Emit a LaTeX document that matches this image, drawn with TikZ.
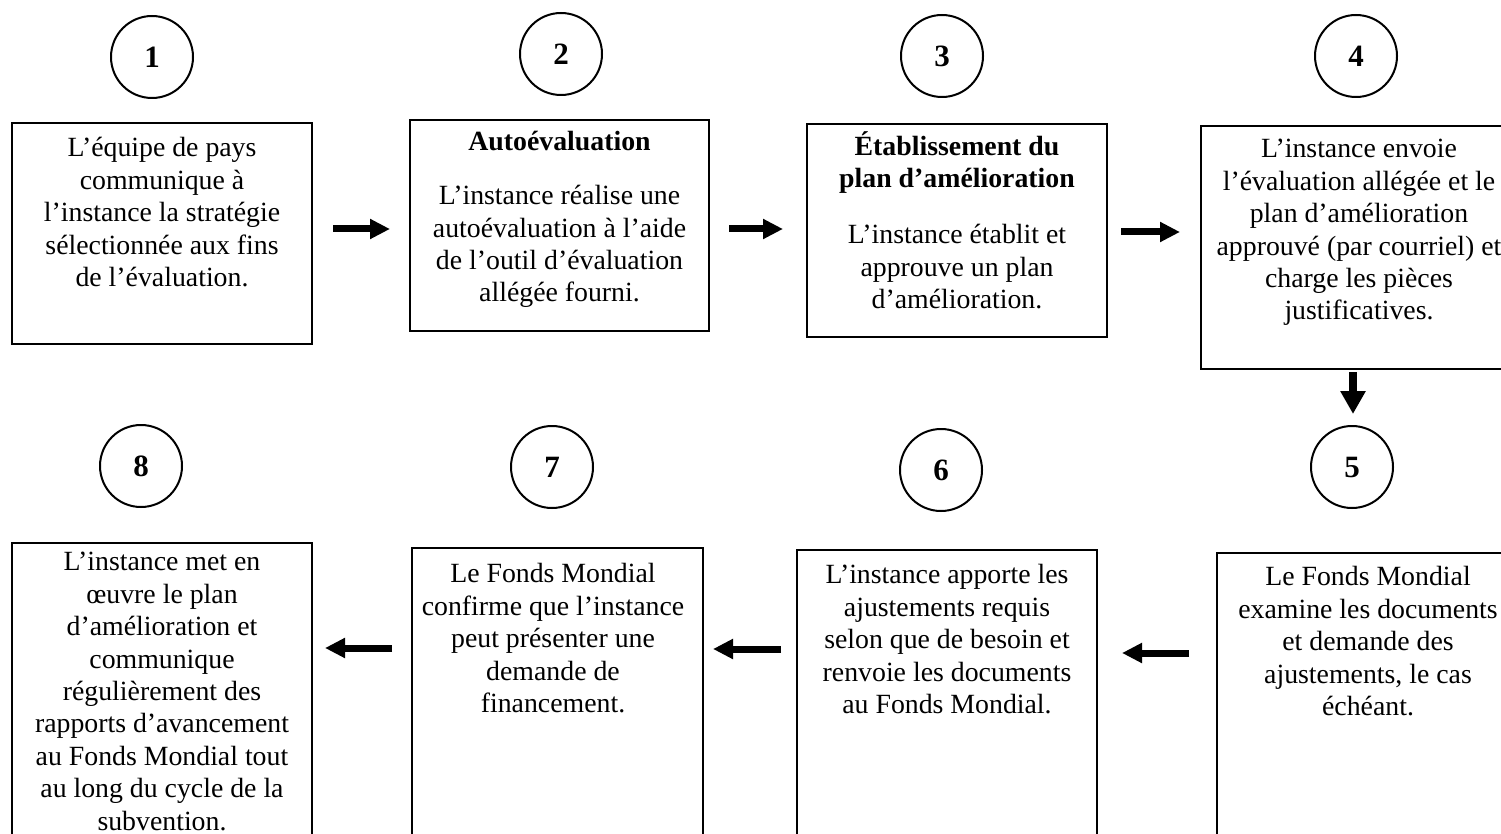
\documentclass[tikz,border=0pt]{standalone}
\usepackage{fontspec}
\setmainfont{Liberation Serif}
\usetikzlibrary{arrows.meta,calc}
\tikzset{
  box/.style={draw, line width=1.3pt, rectangle, inner sep=0pt, outer sep=0pt},
  num/.style={draw, circle, line width=2pt, minimum size=82pt, inner sep=0pt, font=\fontsize{31}{34}\selectfont\bfseries},
  txt/.style={anchor=north, align=center, inner sep=0pt, font=\fontsize{27.8}{32.4}\selectfont},
  harr/.style={line width=7pt, -{Triangle[length=20pt,width=19pt]}},
  varr/.style={line width=8pt, -{Triangle[length=23pt,width=24pt]}}
}
\begin{document}
\begin{tikzpicture}[x=1pt,y=-1pt]
\clip (0,0) rectangle (1501,834);
\fill[white] (0,0) rectangle (1501,834);
% circles
\node[num] (c1) at (152,57) {1};
\node[num] (c2) at (561,54) {2};
\node[num] (c3) at (942,56) {3};
\node[num] (c4) at (1356,56) {4};
\node[num] (c8) at (141,466) {8};
\node[num] (c7) at (552,467) {7};
\node[num] (c6) at (941,470) {6};
\node[num] (c5) at (1352,467) {5};
% boxes
\node[box, minimum width=300pt, minimum height=221pt] (b1) at (162,233.5) {};
\node[box, minimum width=299pt, minimum height=211pt] (b2) at (559.5,225.5) {};
\node[box, minimum width=300pt, minimum height=213pt] (b3) at (957,230.5) {};
\node[box, minimum width=319pt, minimum height=243pt] (b4) at (1360.5,247.5) {};
\node[box, minimum width=304pt, minimum height=297pt] (b5) at (1369,701.5) {};
\node[box, minimum width=300pt, minimum height=300pt] (b6) at (947,700) {};
\node[box, minimum width=291pt, minimum height=302pt] (b7) at (557.5,699) {};
\node[box, minimum width=300pt, minimum height=307pt] (b8) at (162,696.5) {};
% texts
\node[txt] (t1) at (162,134) {\strut L’équipe de pays\\communique à\\l’instance la stratégie\\sélectionnée aux fins\\de l’évaluation.};
\node[txt] (t2) at (559.5,128) {\strut\textbf{Autoévaluation}\\[21.5pt]L’instance réalise une\\autoévaluation à l’aide\\de l’outil d’évaluation\\allégée fourni.};
\node[txt] (t3) at (957,131) {\strut\textbf{Établissement du}\\\textbf{plan d’amélioration}\\[24pt]L’instance établit et\\approuve un plan\\d’amélioration.};
\node[txt] (t4) at (1359,135) {\strut L’instance envoie\\l’évaluation allégée et le\\plan d’amélioration\\approuvé (par courriel) et\\charge les pièces\\justificatives.};
\node[txt] (t5) at (1368,563) {\strut Le Fonds Mondial\\examine les documents\\et demande des\\ajustements, le cas\\échéant.};
\node[txt] (t6) at (947,561) {\strut L’instance apporte les\\ajustements requis\\selon que de besoin et\\renvoie les documents\\au Fonds Mondial.};
\node[txt] (t7) at (553,560) {\strut Le Fonds Mondial\\confirme que l’instance\\peut présenter une\\demande de\\financement.};
\node[txt] (t8) at (162,548) {\strut L’instance met en\\œuvre le plan\\d’amélioration et\\communique\\régulièrement des\\rapports d’avancement\\au Fonds Mondial tout\\au long du cycle de la\\subvention.};
% connectors
\draw[harr] ($(b1.east)+(21,-4.5)$) -- ($(b1.east -| b2.west)+(-20,-4.5)$);
\draw[harr] ($(b2.east)+(20,3.5)$) -- ($(b2.east -| b3.west)+(-24,3.5)$);
\draw[harr] ($(b3.east)+(14,1.5)$) -- ($(b3.east -| b4.west)+(-21,1.5)$);
\draw[varr] ($(b4.south -| c5.north)+(1,3)$) -- ($(c5.north)+(1,-11)$);
\draw[harr] ($(b5.west)+(-28,-48.5)$) -- ($(b5.west -| b6.east)+(25,-48.5)$);
\draw[harr] ($(b6.west)+(-16,-51)$) -- ($(b6.west -| b7.east)+(10,-51)$);
\draw[harr] ($(b7.west)+(-20,-51)$) -- ($(b7.west -| b8.east)+(13,-51)$);
\end{tikzpicture}
\end{document}
